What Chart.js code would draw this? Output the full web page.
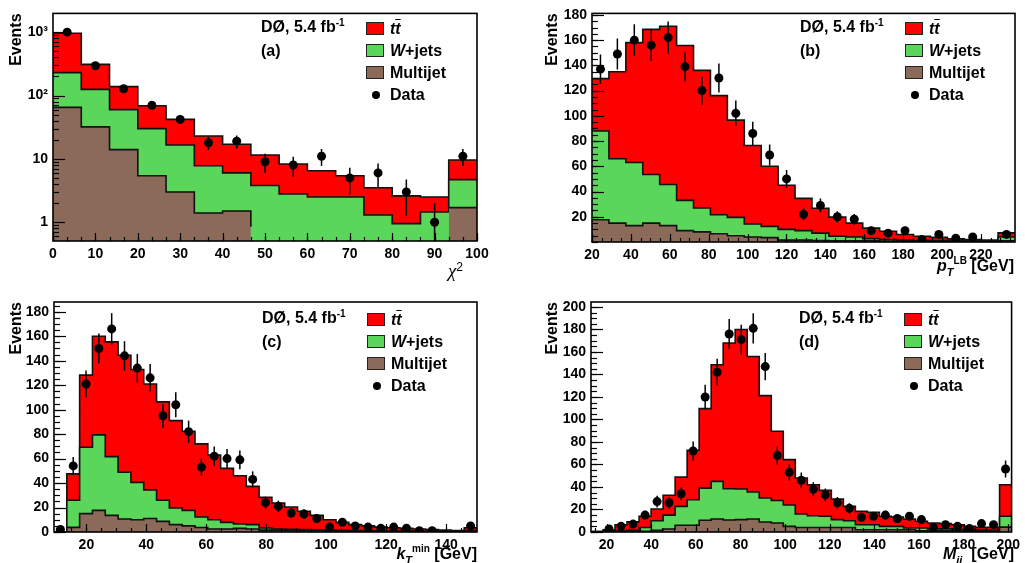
<!DOCTYPE html>
<html>
<head>
<meta charset="utf-8">
<script src="https://cdn.jsdelivr.net/npm/chart.js@4.4.1/dist/chart.umd.min.js"></script>
<style>
  body { margin: 0; background: #fff; }
  #page { position: relative; width: 1025px; height: 563px; overflow: hidden;
          font-family: "Liberation Sans", Arial, Helvetica, sans-serif; color: #000; }
  #page canvas { position: absolute; }
  .txt { position: absolute; font-weight: bold; font-size: 16px; line-height: 18px; white-space: nowrap; }
  .txt sup { font-size: 10px; line-height: 0; }
  .box { position: absolute; width: 16px; height: 11px; border: 1.5px solid #222; }
  .dot { position: absolute; width: 8px; height: 8px; border-radius: 50%; background: #000; }
  .xtitle { position: absolute; font-weight: bold; font-size: 16px; line-height: 20px; white-space: nowrap; text-align: right; }
  .lo { font-size: 11px; position: relative; top: 5px; }
  .hi { font-size: 10px; position: relative; top: -7px; }
  .chi { font-family: "Liberation Serif", "DejaVu Serif", serif; font-weight: normal; font-style: italic; font-size: 19px; }
</style>
</head>
<body>
<div id="page"></div>
<script>
// ---------- Data (events per bin) ---------- //
// (a) chi^2, 15 bins from 0 to 100, log scale
const chi2Multijet = [65, 32, 14, 5.4, 3.0, 1.4, 1.5, 0.85, 0, 0.7, 0, 0, 0, 0, 1.7];
const chi2Wjets    = [165, 93, 46, 24.6, 13.6, 6.4, 4.5, 2.95, 2.8, 1.8, 2.5, 1.3, 0.95, 1.45, 3.0];
const chi2Ttbar    = [730, 185, 78, 39, 25.4, 15.2, 11, 7.7, 5.5, 4.0, 2.9, 2.2, 1.65, 1.05, 4.9];
const chi2Data     = [1000, 295, 128, 70, 42, 18, 19, 9, 8, 11, 5, 6, 3, 1, 11];
const chi2XTicks   = [0, 10, 20, 30, 40, 50, 60, 70, 80, 90, 100];
const chi2YTicks   = [1, 10, 100, 1000];

// (b) pT leading b, 25 bins
const ptMultijet = [17.6, 15, 13, 15, 13, 9, 8, 6.5, 5, 4, 3.5, 1.5, 1.5, 1.2, 1, 1, 1, 0.8, 0.8, 0.6, 0.6, 0.5, 0.5, 0.5, 1];
const ptWjets    = [70.4, 51, 50, 38.5, 32.6, 24, 19, 15.1, 14.5, 10.3, 8.9, 8.5, 7.5, 5.8, 3.5, 3, 1.7, 1.2, 0.7, 0.6, 0.6, 0.5, 0.5, 0.5, 3];
const ptTtbar    = [41.5, 69, 95, 115, 125.4, 122.7, 109, 94.4, 77.1, 62.2, 47.6, 35, 25.6, 19.8, 15.2, 11, 8.3, 6.5, 4.4, 3.4, 2.5, 1.5, 1, 0.5, 3.2];
const ptData     = [137, 149, 160, 156, 162, 139, 120, 130, 102, 86, 69, 50, 22, 29, 20, 18, 9, 7, 9, 2, 6, 3, 4, 0, 6];
const ptXTicks   = [20, 40, 60, 80, 100, 120, 140, 160, 180, 200, 220];
const ptYTicks   = [20, 40, 60, 80, 100, 120, 140, 160, 180];

// (c) kT min, 33 bins
const ktMultijet = [0, 3.8, 15, 17.7, 13.6, 10.6, 10, 11, 8.7, 6, 5, 3.7, 2.4, 2.4, 3, 2.4, 1.5, 1.5, 1.2, 1, 1, 0.8, 0.8, 0.6, 0.5, 0.5, 0.4, 0.4, 0.3, 0.3, 0.3, 0.2, 0.5];
const ktWjets    = [0, 22.2, 54.3, 61.7, 48, 38.2, 30.6, 23.4, 17.2, 13.6, 12.7, 8.5, 7.6, 5.5, 3.5, 3.6, 1.8, 1.0, 1.0, 1.0, 0.8, 0.7, 0.5, 0.5, 0.5, 0.4, 0.4, 0.3, 0.3, 0.2, 0.2, 0.2, 0.7];
const ktTtbar    = [0, 21.5, 58.9, 80.6, 93.8, 95.7, 92.2, 86.6, 80.5, 71.4, 64.7, 59.8, 53, 44.1, 39.5, 31.3, 25, 21.2, 18.2, 14.9, 11.8, 8.5, 6.6, 4.9, 4, 3.1, 2.7, 2.3, 1.9, 1.5, 1.0, 0.8, 2.3];
const ktData     = [2, 54, 121, 150, 166, 144, 134, 126, 95, 104, 82, 53, 62, 60, 59, 43, 24, 21, 15.5, 14.7, 11, 4, 8, 5, 4, 3, 4, 3, 1, 1, 0, 0, 5];
const ktXTicks   = [20, 40, 60, 80, 100, 120, 140];
const ktYTicks   = [0, 20, 40, 60, 80, 100, 120, 140, 160, 180];

// (d) Mjj, 35 bins
const mjjMultijet = [0.2, 0.2, 0.2, 0.2, 0.6, 1.5, 2.7, 6, 6, 10.4, 11.6, 10.7, 11, 11.6, 8.9, 8, 5, 4, 4, 4, 4, 4, 2, 2, 2, 2, 2, 1, 1, 1, 1, 1, 1, 1, 4.3];
const mjjWjets    = [0.1, 0.3, 0.8, 1.3, 3.4, 8.5, 12.3, 16.8, 22.7, 28.6, 33.4, 27.8, 27.2, 24, 21.3, 20, 19, 12, 10.5, 10, 7, 6, 4.5, 4.5, 3, 3, 1.6, 2.6, 1.8, 1.8, 1.1, 1.1, 0.8, 0.5, 9.7];
const mjjTtbar    = [0.2, 1.5, 5.5, 7.5, 10, 10.4, 17.6, 26.1, 43.9, 70.6, 103.7, 129.5, 141.8, 120.4, 91, 61.5, 40.3, 32, 27.5, 23, 18.3, 12.8, 11.8, 11, 9, 8.3, 7.9, 5.9, 5.2, 4.6, 4.4, 2.9, 2.3, 2.6, 28];
const mjjData     = [0, 2.7, 5, 7, 15, 27, 26, 34, 72, 120, 142, 176, 171, 181, 147, 68, 53, 46, 38, 33, 26, 21, 13, 14, 15, 12, 14, 11, 4, 6.5, 5, 3, 7.5, 6.5, 56];
const mjjXTicks   = [20, 40, 60, 80, 100, 120, 140, 160, 180, 200];
const mjjYTicks   = [0, 20, 40, 60, 80, 100, 120, 140, 160, 180, 200];

const FONT = '"Liberation Sans", Arial, Helvetica, sans-serif';
const RED = '#ff0000';
const GREEN = '#5ad65a';
const BROWN = '#8c6a5a';

// ---------- ROOT-like frame, inward ticks and error bars ---------- //
const rootStyle = {
  id: 'rootStyle',
  beforeDatasetDraw(chart, args) {
    const ds = chart.data.datasets[args.index];
    if (ds.label !== 'Data') return;
    const { ctx, chartArea: a, scales: { x, y } } = chart;
    ctx.save();
    ctx.beginPath();
    ctx.rect(a.left, a.top, a.right - a.left, a.bottom - a.top);
    ctx.clip();
    ctx.strokeStyle = '#000';
    ctx.lineWidth = 1.5;
    ds.data.forEach(p => {
      const px = x.getPixelForValue(p.x);
      const lo = p.y - p.err;
      const y1 = lo > y.min ? y.getPixelForValue(lo) : a.bottom;
      const y2 = y.getPixelForValue(p.y + p.err);
      ctx.beginPath();
      ctx.moveTo(px, y1);
      ctx.lineTo(px, y2);
      ctx.stroke();
    });
    ctx.restore();
  },
  afterDraw(chart, args, opts) {
    const { ctx, chartArea: a, scales: { x, y } } = chart;
    ctx.save();
    ctx.strokeStyle = '#000';
    ctx.lineWidth = 1.2;

    const minorVals = (scale, step, log) => {
      const out = [];
      if (log) {
        for (let d = Math.floor(Math.log10(scale.min)); d <= Math.ceil(Math.log10(scale.max)); d++) {
          for (let m = 2; m <= 9; m++) {
            const v = m * Math.pow(10, d);
            if (v >= scale.min && v <= scale.max) out.push(v);
          }
        }
      } else {
        const start = Math.ceil(scale.min / step);
        for (let i = start; i * step <= scale.max + 1e-9; i++) out.push(i * step);
      }
      return out;
    };

    // x axis ticks (pointing up from the bottom edge)
    const xTick = (v, len) => {
      const px = Math.round(x.getPixelForValue(v)) + 0.5;
      ctx.beginPath(); ctx.moveTo(px, a.bottom); ctx.lineTo(px, a.bottom - len); ctx.stroke();
    };
    minorVals(x, opts.xMinor, false).forEach(v => xTick(v, 4));
    x.ticks.forEach(t => xTick(t.value, 8));

    // y axis ticks (pointing right from the left edge)
    const yTick = (v, len) => {
      const py = Math.round(y.getPixelForValue(v)) + 0.5;
      ctx.beginPath(); ctx.moveTo(a.left, py); ctx.lineTo(a.left + len, py); ctx.stroke();
    };
    minorVals(y, opts.yMinor, opts.yLog).forEach(v => yTick(v, 6));
    y.ticks.forEach(t => yTick(t.value, 12));

    ctx.lineWidth = 1.6;
    ctx.strokeRect(a.left, a.top, a.right - a.left, a.bottom - a.top);
    ctx.restore();
  }
};

function makeHist(label, tops, edges, color, order) {
  const pts = tops.map((v, i) => ({ x: edges[i], y: v }));
  pts.push({ x: edges[edges.length - 1], y: tops[tops.length - 1] });
  return {
    type: 'line', label, data: pts, stepped: true, fill: 'start',
    backgroundColor: color, borderColor: '#111', borderWidth: 1.6,
    pointRadius: 0, order
  };
}

function addDiv(cls, html, style) {
  const d = document.createElement('div');
  d.className = cls;
  d.innerHTML = html;
  Object.assign(d.style, style);
  document.getElementById('page').appendChild(d);
  return d;
}

// ---------- One panel ---------- //
function makePanel(p) {
  const page = document.getElementById('page');
  const canvas = document.createElement('canvas');
  canvas.width = p.w; canvas.height = p.h;
  canvas.style.left = p.cx + 'px'; canvas.style.top = p.cy + 'px';
  canvas.style.width = p.w + 'px'; canvas.style.height = p.h + 'px';
  page.appendChild(canvas);

  const n = p.data.length;
  const bw = (p.range[1] - p.range[0]) / n;
  const edges = Array.from({ length: n + 1 }, (_, i) => p.range[0] + i * bw);

  // stacked tops: multijet, + W+jets, + ttbar
  const brown = p.multijet;
  const green = brown.map((v, i) => v + p.wjets[i]);
  const red = green.map((v, i) => v + p.ttbar[i]);

  const points = [];
  p.data.forEach((v, i) => {
    if (v > 0) points.push({ x: (edges[i] + edges[i + 1]) / 2, y: v, err: Math.sqrt(v) });
  });

  const tickFont = { family: FONT, size: 14, weight: 'bold' };

  new Chart(canvas, {
    type: 'line',
    data: {
      datasets: [
        makeHist('ttbar', red, edges, RED, 3),
        makeHist('W+jets', green, edges, GREEN, 2),
        makeHist('Multijet', brown, edges, BROWN, 1),
        { type: 'line', label: 'Data', data: points, showLine: false,
          pointRadius: 4.5, pointBackgroundColor: '#000', pointBorderWidth: 0, order: 0 }
      ]
    },
    options: {
      responsive: false,
      animation: false,
      devicePixelRatio: 1,
      layout: { padding: p.pad },
      plugins: { legend: { display: false }, tooltip: { enabled: false },
                 rootStyle: { xMinor: p.xMinor, yMinor: p.yMinor, yLog: !!p.log } },
      scales: {
        x: {
          type: 'linear', min: p.range[0], max: p.range[1], offset: false,
          grid: { display: false, drawTicks: false }, border: { display: false },
          afterBuildTicks: s => { s.ticks = p.xTicks.map(v => ({ value: v })); },
          afterFit: s => { s.height = p.xH; },
          ticks: { font: tickFont, color: '#000', padding: 5, autoSkip: false, maxRotation: 0 }
        },
        y: {
          type: p.log ? 'logarithmic' : 'linear', min: p.yRange[0], max: p.yRange[1],
          grid: { display: false, drawTicks: false }, border: { display: false },
          afterBuildTicks: s => { s.ticks = p.yTicks.map(v => ({ value: v })); },
          afterFit: s => { s.width = 53; },
          title: { display: true, text: 'Events', align: 'end', color: '#000',
                   font: { family: FONT, size: 16, weight: 'bold' }, padding: { top: p.titlePad, bottom: 0 } },
          ticks: { font: tickFont, color: '#000', padding: 5, autoSkip: false,
                   callback: p.yLabel || (v => String(v)) }
        }
      }
    },
    plugins: [rootStyle]
  });

  // legend + experiment label, placed relative to the plot frame
  const L = p.cx + p.pad.left + 53;
  const T = p.cy + p.pad.top;
  addDiv('txt', 'DØ, 5.4 fb<sup>-1</sup>', { left: (L + 208) + 'px', top: (T + 7) + 'px' });
  addDiv('txt', p.tag, { left: (L + 208) + 'px', top: (T + 31) + 'px' });
  const entries = [
    ['<i>t</i><i style="text-decoration: overline">t</i>', RED],
    ['<i>W</i>+jets', GREEN],
    ['Multijet', BROWN]
  ];
  entries.forEach((e, i) => {
    const cy = T + 18 + i * 22;
    addDiv('box', '', { left: (L + 313) + 'px', top: (cy - 7) + 'px', background: e[1] });
    addDiv('txt', e[0], { left: (L + 337) + 'px', top: (cy - 9) + 'px' });
  });
  addDiv('dot', '', { left: (L + 319) + 'px', top: (T + 80) + 'px' });
  addDiv('txt', 'Data', { left: (L + 337) + 'px', top: (T + 75) + 'px' });

  addDiv('xtitle', p.xTitle, { right: (1025 - p.xEnd) + 'px', top: (p.xTitleY - 10) + 'px' });
}

// ---------- Build the four panels ---------- //
makePanel({
  tag: '(a)', cx: 0, cy: 0, w: 512, h: 281, pad: { left: 0, right: 35, top: 11, bottom: 0 }, xH: 40, titlePad: 7,
  range: [0, 100], yRange: [0.505, 1980], log: true,
  multijet: chi2Multijet, wjets: chi2Wjets, ttbar: chi2Ttbar, data: chi2Data,
  xTicks: chi2XTicks, yTicks: chi2YTicks, xMinor: 10 / 3, yMinor: 0,
  yLabel: v => ({ 1: '1', 10: '10', 100: '10²', 1000: '10³' })[v],
  xTitle: '<span class="chi">χ</span><sup style="font-weight:normal;font-size:12px">2</sup>', xEnd: 463, xTitleY: 267
});

makePanel({
  tag: '(b)', cx: 512, cy: 0, w: 513, h: 281, pad: { left: 27, right: 10, top: 11, bottom: 0 }, xH: 39, titlePad: 4,
  range: [20, 237.5], yRange: [0, 181.2],
  multijet: ptMultijet, wjets: ptWjets, ttbar: ptTtbar, data: ptData,
  xTicks: ptXTicks, yTicks: ptYTicks, xMinor: 5, yMinor: 5,
  xTitle: '<i>p</i><span class="lo"><i>T</i></span><span class="hi">LB</span> [GeV]', xEnd: 1014, xTitleY: 266
});

makePanel({
  tag: '(c)', cx: 0, cy: 281, w: 512, h: 282, pad: { left: 1, right: 35, top: 21, bottom: 0 }, xH: 31, titlePad: 6,
  range: [9.2, 150.3], yRange: [0, 188],
  multijet: ktMultijet, wjets: ktWjets, ttbar: ktTtbar, data: ktData,
  xTicks: ktXTicks, yTicks: ktYTicks, xMinor: 5, yMinor: 5,
  xTitle: '<i>k</i><span class="lo"><i>T</i></span><span class="hi">min</span> [GeV]', xEnd: 477, xTitleY: 554
});

makePanel({
  tag: '(d)', cx: 512, cy: 281, w: 513, h: 282, pad: { left: 26, right: 10, top: 21, bottom: 0 }, xH: 31, titlePad: 5,
  range: [13, 201.5], yRange: [0, 204.4],
  multijet: mjjMultijet, wjets: mjjWjets, ttbar: mjjTtbar, data: mjjData,
  xTicks: mjjXTicks, yTicks: mjjYTicks, xMinor: 5, yMinor: 5,
  xTitle: '<i>M</i><span class="lo"><i>jj</i></span>&nbsp; [GeV]', xEnd: 1014, xTitleY: 554
});
</script>
</body>
</html>
